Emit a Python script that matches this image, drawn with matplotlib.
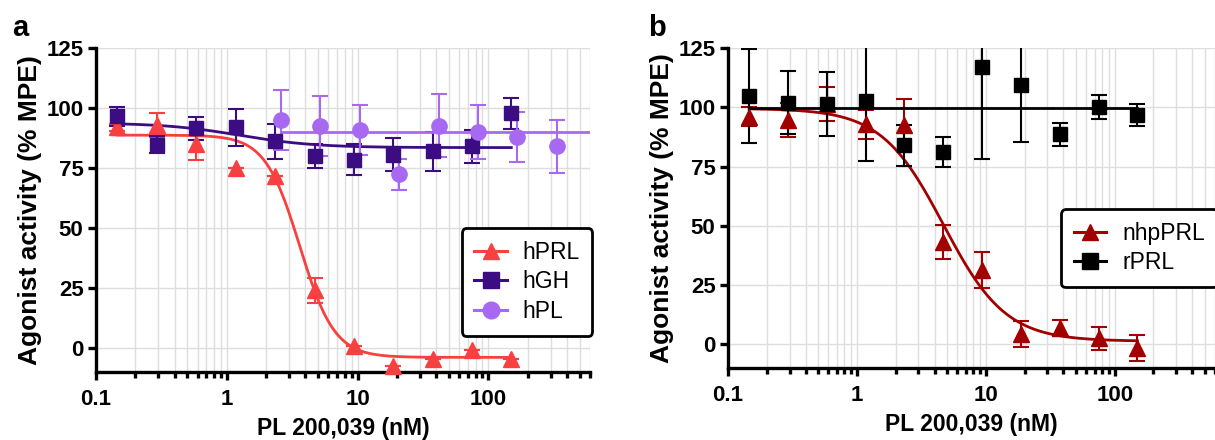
import numpy as np
import matplotlib
matplotlib.use("Agg")
import matplotlib.pyplot as plt
from matplotlib.ticker import LogLocator, FixedLocator, NullFormatter

plt.rcParams['font.family'] = ['Liberation Sans', 'DejaVu Sans']

# doses (nM), 2-fold dilutions
dose = [0.146, 0.293, 0.586, 1.17, 2.34, 4.69, 9.38, 18.75, 37.5, 75, 150]
dose_hpl = [2.6, 5.2, 10.4, 20.8, 41.7, 83.3, 166.7, 333.3]

# panel a
hprl_y = [92, 93, 85, 75, 71.5, 24, 1, -7.3, -4.5, -0.8, -4.5]
hprl_err = [1.5, 5, 6.5, 0, 0, 5.3, 0, 0, 0, 0, 0]
hgh_y = [96.5, 84.7, 91.6, 91.9, 86.1, 80, 78.4, 80.6, 82, 84, 97.8]
hgh_err = [4, 3.5, 4.8, 7.8, 7.2, 5.2, 6.5, 7, 8.2, 7, 6.4]
hpl_y = [95, 92.7, 90.8, 72.3, 92.7, 90, 87.8, 84]
hpl_err = [12.5, 12.5, 10.5, 6.5, 13, 11.3, 10.5, 11]

# panel b
nhp_y = [96, 94.6, 101.4, 92.8, 92.5, 43.2, 31.3, 4.3, 6.9, 2.5, -1.7]
nhp_err = [4, 7, 7.2, 6, 11, 7.2, 7.5, 5.5, 3.5, 5, 5.5]
rprl_y = [104.7, 102, 101.4, 102.5, 84, 81, 117, 109.6, 88.6, 100, 96.7]
rprl_err = [19.8, 13.4, 13.4, 25, 8.6, 6.3, 39, 24.2, 4.8, 5, 4.6]

# 4-parameter logistic fits: top, bottom, IC50, hill
fit_hprl = (88.7, -3.9, 3.62, 3.27)
fit_hgh = (93.8, 83.5, 1.25, 1.5)
fit_nhp = (99.5, 1.3, 4.7, 1.8)
hpl_level = 90.0
rprl_level = 99.5

c_hprl = '#f94040'
c_hgh = '#3c0c82'
c_hpl = '#a869f2'
c_nhp = '#a20000'
c_rprl = '#000000'


def four_pl(x, top, bottom, ic50, hill):
    return bottom + (top - bottom) / (1 + (x / ic50) ** hill)


def style_axes(ax):
    ax.set_xscale('log')
    ax.set_xlim(0.1, 600)
    ax.set_ylim(-10, 125)
    ax.set_yticks([0, 25, 50, 75, 100, 125])
    ax.xaxis.set_major_locator(FixedLocator([0.1, 1, 10, 100]))
    ax.set_xticklabels(['0.1', '1', '10', '100'])
    ax.xaxis.set_minor_locator(LogLocator(base=10, subs=np.arange(2, 10)))
    ax.xaxis.set_minor_formatter(NullFormatter())
    ax.grid(True, which='both', axis='x', color='#dedede', lw=1)
    ax.grid(True, which='major', axis='y', color='#dedede', lw=1)
    ax.set_axisbelow(True)
    for s in ['top', 'right']:
        ax.spines[s].set_visible(False)
    for s in ['left', 'bottom']:
        ax.spines[s].set_linewidth(2.4)
    ax.tick_params(which='major', length=6, width=2.4, labelsize=16, pad=3)
    ax.tick_params(which='minor', axis='x', length=4, width=2.4)
    ax.tick_params(axis='x', which='major', pad=6)
    for lab in ax.get_xticklabels() + ax.get_yticklabels():
        lab.set_fontweight('bold')
    ax.set_xlabel('PL 200,039 (nM)', fontsize=16.5, fontweight='bold', labelpad=5)
    ax.set_ylabel('Agonist activity (% MPE)', fontsize=19, fontweight='bold', labelpad=3)


def series(ax, x, y, err, color, marker, ms, label, fit=None, level=None, xr=None):
    ax.errorbar(x, y, yerr=err, fmt='none', ecolor=color, elinewidth=1.5,
                capsize=6, capthick=1.5, zorder=3)
    ax.plot(x, y, linestyle='none', marker=marker, ms=ms, color=color, zorder=4,
            clip_on=False)
    xs = np.logspace(np.log10(xr[0]), np.log10(xr[1]), 300)
    if fit is not None:
        ys = four_pl(xs, *fit)
    else:
        ys = np.full_like(xs, level)
    ax.plot(xs, ys, color=color, lw=2, zorder=3)
    h, = ax.plot([], [], color=color, lw=2.2, marker=marker, ms=ms + 1)
    return h, label


def add_legend(ax, hs, top):
    leg = ax.legend([h for h, _ in hs], [l for _, l in hs], loc='upper right',
                    bbox_to_anchor=(1.005, top), fontsize=16.5, frameon=True, fancybox=True,
                    handlelength=1.4, borderpad=0.55, labelspacing=0.3, handletextpad=0.7,
                    borderaxespad=0)
    leg.get_frame().set_edgecolor('black')
    leg.get_frame().set_linewidth(2)
    leg.get_frame().set_alpha(1)
    leg.set_zorder(10)


fig = plt.figure(figsize=(12.15, 4.4), dpi=100)
ax1 = fig.add_axes([96 / 1215, 1 - 372 / 440, 494 / 1215, 324 / 440])
ax2 = fig.add_axes([728 / 1215, 1 - 368 / 440, 487 / 1215, 320 / 440])

style_axes(ax1)
style_axes(ax2)

hs = []
hs.append(series(ax1, dose, hprl_y, hprl_err, c_hprl, '^', 11, 'hPRL', fit=fit_hprl, xr=(dose[0], dose[-1])))
hs.append(series(ax1, dose, hgh_y, hgh_err, c_hgh, 's', 10, 'hGH', fit=fit_hgh, xr=(dose[0], dose[-1])))
hs.append(series(ax1, dose_hpl, hpl_y, hpl_err, c_hpl, 'o', 11, 'hPL', level=hpl_level, xr=(dose_hpl[0], 600)))
add_legend(ax1, hs, (372 - 228) / 324)

hs = []
hs.append(series(ax2, dose, nhp_y, nhp_err, c_nhp, '^', 11, 'nhpPRL', fit=fit_nhp, xr=(dose[0], dose[-1])))
hs.append(series(ax2, dose, rprl_y, rprl_err, c_rprl, 's', 10, 'rPRL', level=rprl_level, xr=(dose[0], dose[-1])))
add_legend(ax2, hs, (368 - 209) / 320)

fig.text(12 / 1215, 1 - 28 / 440, 'a', fontsize=21, fontweight='bold', va='center')
fig.text(648 / 1215, 1 - 28 / 440, 'b', fontsize=21, fontweight='bold', va='center')

fig.savefig('out.png', dpi=100)
